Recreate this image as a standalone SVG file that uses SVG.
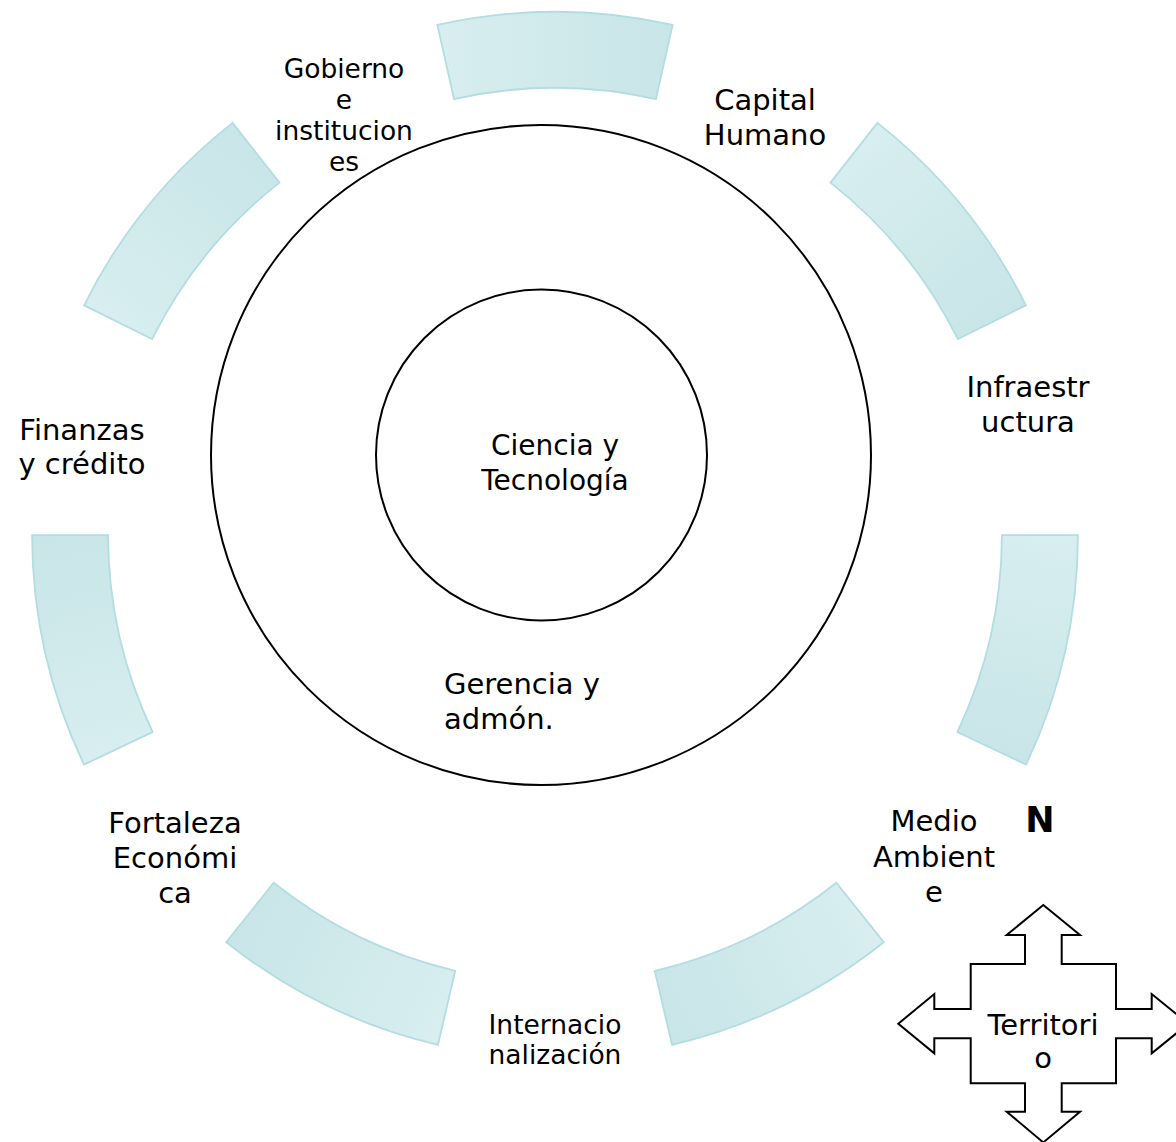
<svg xmlns="http://www.w3.org/2000/svg" xmlns:xlink="http://www.w3.org/1999/xlink" width="1176" height="1142" viewBox="0 0 1176 1142">
<style>
  .lbl { font-family: "DejaVu Sans", Verdana, sans-serif; fill: #000000; text-anchor: middle; }
  .big { font-size: 29px; }
  .mid { font-size: 28px; }
  .sm { font-size: 26.5px; }
  .seg { fill: url(#segGrad); stroke: #b3dde0; stroke-width: 1.8; }
  .ring { fill: none; stroke: #000000; stroke-width: 2; }
</style>
<defs>
  <linearGradient id="segGrad" x1="0" y1="0" x2="1" y2="0">
    <stop offset="0" stop-color="#d8eef0"/>
    <stop offset="1" stop-color="#c8e5e7"/>
  </linearGradient>
  <path id="seg" class="seg" d="M -117.62,-521.91 A 535 535 0 0 1 117.62,-521.91 L 100.91,-447.77 A 459 459 0 0 0 -100.91,-447.77 Z"/>
</defs>
<rect x="0" y="0" width="1176" height="1142" fill="#ffffff"/>

<g id="connectors">
  <use xlink:href="#seg" href="#seg" transform="translate(555,546.9) rotate(0)"/>
  <use xlink:href="#seg" href="#seg" transform="translate(546.9,543.5) rotate(50.86)"/>
  <use xlink:href="#seg" href="#seg" transform="translate(542.9,534.8) rotate(102.74)"/>
  <use xlink:href="#seg" href="#seg" transform="translate(550.3,523.8) rotate(154.15)"/>
  <use xlink:href="#seg" href="#seg" transform="translate(559.7,523.8) rotate(-154.15)"/>
  <use xlink:href="#seg" href="#seg" transform="translate(567.1,534.8) rotate(-102.74)"/>
  <use xlink:href="#seg" href="#seg" transform="translate(563.1,543.5) rotate(-50.86)"/>
</g>

<g id="outer-circle">
  <circle class="ring" cx="541" cy="455" r="330"/>
</g>
<g id="inner-circle">
  <circle class="ring" cx="541.5" cy="455" r="165.5"/>
</g>

<g id="node-ciencia">
  <text class="lbl mid" x="555" y="455">Ciencia y</text>
  <text class="lbl mid" x="555" y="490">Tecnología</text>
</g>
<g id="node-gerencia">
  <text class="lbl big" x="444" y="694" style="text-anchor:start">Gerencia y</text>
  <text class="lbl big" x="444" y="729" style="text-anchor:start">admón.</text>
</g>
<g id="node-gobierno">
  <text class="lbl sm" x="344" y="78">Gobierno</text>
  <text class="lbl sm" x="344" y="109">e</text>
  <text class="lbl sm" x="344" y="140">institucion</text>
  <text class="lbl sm" x="344" y="171">es</text>
</g>
<g id="node-capital">
  <text class="lbl big" x="765" y="110">Capital</text>
  <text class="lbl big" x="765" y="145">Humano</text>
</g>
<g id="node-infraestructura">
  <text class="lbl big" x="1028" y="397">Infraestr</text>
  <text class="lbl big" x="1028" y="432">uctura</text>
</g>
<g id="node-medio">
  <text class="lbl big" x="934" y="831">Medio</text>
  <text class="lbl big" x="934" y="867">Ambient</text>
  <text class="lbl big" x="934" y="902">e</text>
</g>
<g id="node-internacionalizacion">
  <text class="lbl sm" x="555" y="1034">Internacio</text>
  <text class="lbl sm" x="555" y="1064">nalización</text>
</g>
<g id="node-fortaleza">
  <text class="lbl big" x="175" y="833">Fortaleza</text>
  <text class="lbl big" x="175" y="868">Económi</text>
  <text class="lbl big" x="175" y="903">ca</text>
</g>
<g id="node-finanzas">
  <text class="lbl big" x="82" y="440">Finanzas</text>
  <text class="lbl big" x="82" y="474">y crédito</text>
</g>

<g id="node-north">
  <text x="1040" y="832" style="font-family:'DejaVu Sans', Verdana, sans-serif; font-weight:bold; font-size:35px; text-anchor:middle; fill:#000000">N</text>
</g>
<g id="node-territorio">
  <polygon points="1043.3,905 1080,935 1061.7,935 1061.7,964 1116,964 1116,1009 1151.7,1009 1151.7,994 1188.3,1023.7 1151.7,1053.3 1151.7,1038.3 1116,1038.3 1116,1083.3 1061.7,1083.3 1061.7,1111.7 1080,1111.7 1043.3,1142.4 1006.7,1111.7 1025,1111.7 1025,1083.3 970.7,1083.3 970.7,1038.3 934.3,1038.3 934.3,1053.3 898.3,1023.7 934.3,994 934.3,1009 970.7,1009 970.7,964 1025,964 1025,935 1006.7,935" fill="#ffffff" stroke="#000000" stroke-width="2" stroke-linejoin="miter"/>
  <text class="lbl big" x="1043" y="1035">Territori</text>
  <text class="lbl big" x="1043" y="1068">o</text>
</g>
</svg>
